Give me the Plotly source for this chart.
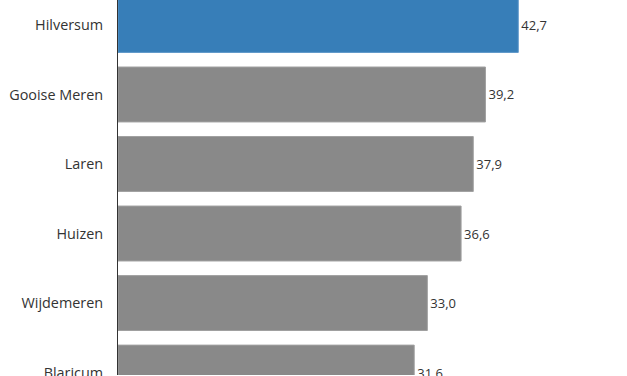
import plotly.graph_objects as go

categories = ["Hilversum", "Gooise Meren", "Laren", "Huizen", "Wijdemeren", "Blaricum"]
values = [42.7, 39.2, 37.9, 36.6, 33.0, 31.6]
highlight = "Hilversum"

fills = ["#377eb8" if c == highlight else "#898989" for c in categories]
edges = ["#5d97c9" if c == highlight else "#a0a0a0" for c in categories]

fig = go.Figure(go.Bar(
    x=values, y=categories, orientation="h",
    marker=dict(color=fills, line=dict(color=edges, width=1)),
    text=values, texttemplate="%{x:.1f}", textposition="outside",
    textfont=dict(family="Open Sans", size=13, color="#333333"),
    cliponaxis=False,
))

fig.update_layout(
    width=627, height=382,
    margin=dict(l=118, r=0, t=0, b=0),
    paper_bgcolor="white", plot_bgcolor="white",
    separators=",.",
    bargap=0.21,
    showlegend=False,
    font=dict(family="Open Sans", size=14.4, color="#333333"),
)
fig.update_xaxes(range=[0, 54.3], visible=False, showgrid=False, zeroline=False)
fig.update_yaxes(
    range=[5.035, -0.359], showgrid=False, zeroline=False,
    showline=True, linecolor="#333333", linewidth=1,
    ticks="", ticklabelstandoff=11,
    tickfont=dict(family="Open Sans", size=14.4, color="#333333"),
)

fig.write_html("out.html")
